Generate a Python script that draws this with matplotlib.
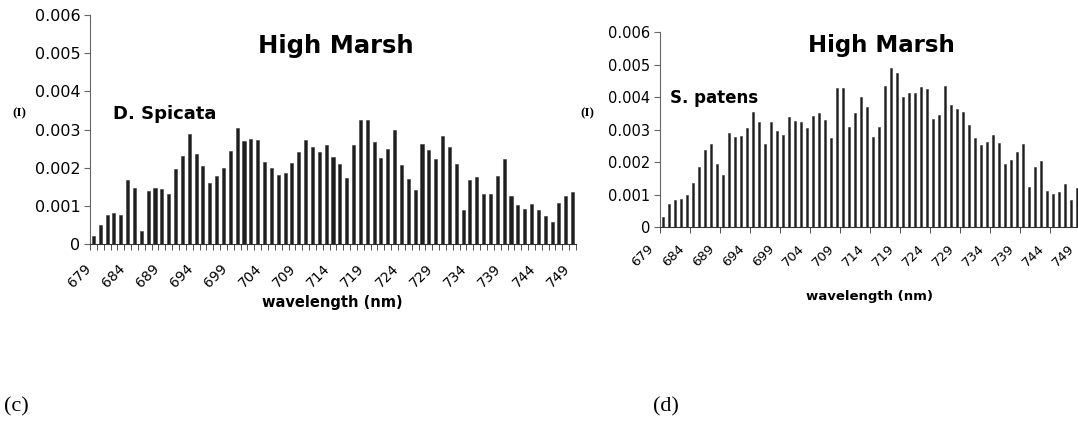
import numpy as np
import matplotlib
matplotlib.use('Agg')
import matplotlib.pyplot as plt
from matplotlib.transforms import ScaledTranslation

# wavelength categories (nm)
wl = list(range(679, 750))
wl_labels = [str(w) for w in wl[::5]]

# D. Spicata, high marsh (c)
spicata = [0.00021, 0.00051, 0.00075, 0.00081, 0.00077, 0.00168, 0.00146, 0.00034,
           0.00140, 0.00148, 0.00143, 0.00132, 0.00196, 0.00231, 0.00289, 0.00237,
           0.00204, 0.00161, 0.00179, 0.00200, 0.00244, 0.00304, 0.00269, 0.00274,
           0.00272, 0.00216, 0.00200, 0.00182, 0.00185, 0.00211, 0.00242, 0.00272,
           0.00253, 0.00242, 0.00259, 0.00229, 0.00209, 0.00173, 0.00259, 0.00326,
           0.00324, 0.00268, 0.00226, 0.00250, 0.00300, 0.00207, 0.00170, 0.00142,
           0.00261, 0.00246, 0.00222, 0.00282, 0.00254, 0.00209, 0.00089, 0.00168,
           0.00175, 0.00131, 0.00132, 0.00179, 0.00224, 0.00125, 0.00103, 0.00092,
           0.00105, 0.00088, 0.00073, 0.00057, 0.00107, 0.00125, 0.00135]

# S. patens, high marsh (d) - last category is cut off in the source
patens = [0.00032, 0.00071, 0.00083, 0.00086, 0.00099, 0.00135, 0.00187, 0.00238,
          0.00255, 0.00195, 0.00162, 0.00290, 0.00279, 0.00281, 0.00305, 0.00356,
          0.00324, 0.00255, 0.00324, 0.00295, 0.00284, 0.00339, 0.00327, 0.00324,
          0.00306, 0.00343, 0.00351, 0.00330, 0.00276, 0.00429, 0.00429, 0.00309,
          0.00353, 0.00400, 0.00370, 0.00279, 0.00310, 0.00435, 0.00491, 0.00475,
          0.00402, 0.00413, 0.00412, 0.00431, 0.00425, 0.00333, 0.00345, 0.00434,
          0.00376, 0.00365, 0.00356, 0.00316, 0.00276, 0.00252, 0.00264, 0.00284,
          0.00258, 0.00195, 0.00206, 0.00232, 0.00255, 0.00125, 0.00187, 0.00203,
          0.00111, 0.00104, 0.00108, 0.00134, 0.00083, 0.00120]

yticks = [0, 0.001, 0.002, 0.003, 0.004, 0.005, 0.006]
ylabels = ['0', '0.001', '0.002', '0.003', '0.004', '0.005', '0.006']

W, H = 1078, 421
fig = plt.figure(figsize=(W / 100, H / 100), dpi=100)


def px(x, y):
    return x / W, 1 - y / H


def panel(rect, vals, bw, fs, minor_step, lab_pad, lab_dx, lab_fs):
    ax = fig.add_axes(rect)
    n = len(wl)
    ax.bar(np.arange(len(vals)), vals, width=bw, color='#1e1e1e', edgecolor='#3a3a3a', lw=0.4)
    ax.set_xlim(-0.5, n - 0.5)
    ax.set_ylim(0, 0.006)
    for s in ['top', 'right']:
        ax.spines[s].set_visible(False)
    ax.spines['left'].set_color('#666666')
    ax.spines['bottom'].set_color('#333333')
    ax.set_yticks(yticks)
    ax.set_yticklabels(ylabels, fontsize=fs)
    ax.tick_params(axis='y', direction='out', length=4, color='#666666', pad=3)
    ax.set_xticks(np.arange(0, n, 5))
    ax.set_xticklabels(wl_labels, fontsize=lab_fs, rotation=45, ha='right',
                       va='center', rotation_mode='anchor')
    ax.set_xticks(np.arange(-0.5, n, minor_step), minor=True)
    ax.tick_params(axis='x', which='major', length=0, pad=lab_pad)
    ax.tick_params(axis='x', which='minor', length=4, color='#333333')
    off = ScaledTranslation(lab_dx / 100, 0, fig.dpi_scale_trans)
    for t in ax.get_xticklabels():
        t.set_transform(t.get_transform() + off)
    return ax


ax1 = panel([90 / W, 1 - 244 / H, 486 / W, 229 / H], spicata, 0.45, 11.5, 1, 16, -5, 10)
ax2 = panel([660 / W, 1 - 227.3 / H, 426 / W, 195 / H], patens, 0.42, 10.5, 5, 14, -11, 9.5)

# titles and annotations
fig.text(*px(336, 53), 'High Marsh', fontsize=17.5, fontweight='heavy', ha='center', va='baseline')
fig.text(*px(881, 52), 'High Marsh', fontsize=16.5, fontweight='heavy', ha='center', va='baseline')
fig.text(*px(113, 119), 'D. Spicata', fontsize=13, fontweight='bold', ha='left', va='baseline')
fig.text(*px(670, 103), 'S. patens', fontsize=12, fontweight='bold', ha='left', va='baseline')
fig.text(*px(19, 113), '(I)', fontsize=9.5, fontweight='bold', family='Liberation Serif', ha='center', va='center')
fig.text(*px(587, 113), '(I)', fontsize=9.5, fontweight='bold', family='Liberation Serif', ha='center', va='center')
fig.text(*px(332, 307), 'wavelength (nm)', fontsize=10.5, fontweight='bold', ha='center', va='baseline')
fig.text(*px(870, 300), 'wavelength (nm)', fontsize=9.5, fontweight='bold', ha='center', va='baseline')
fig.text(*px(4, 407), '(c)', fontsize=16, family='Liberation Serif', ha='left', va='center')
fig.text(*px(653, 407), '(d)', fontsize=16, family='Liberation Serif', ha='left', va='center')

fig.savefig('out.png', dpi=100)
